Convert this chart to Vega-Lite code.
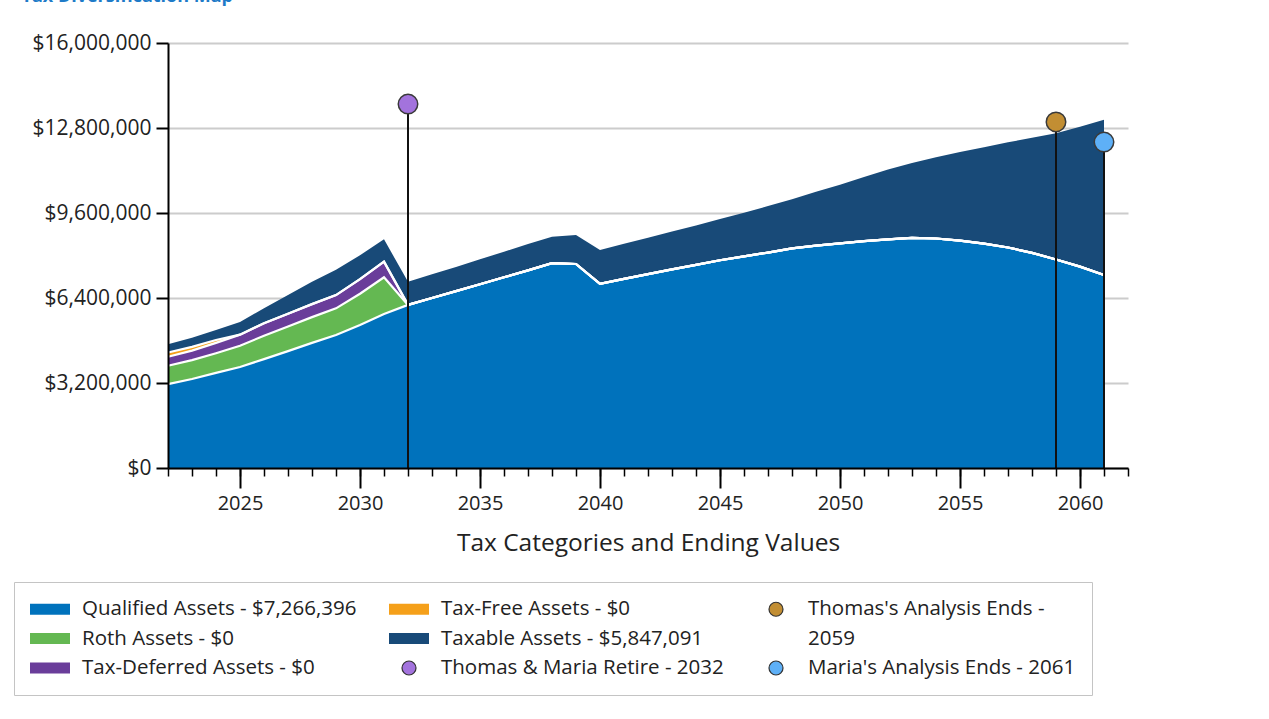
{
  "$schema": "https://vega.github.io/schema/vega-lite/v6.json",
  "width": 960,
  "height": 425,
  "autosize": {"type": "none"},
  "padding": {"left": 168, "top": 43, "right": 141, "bottom": 251},
  "background": "white",
  "config": {"view": {"stroke": null}, "font": "Open Sans"},
  "title": {"text": "Tax Diversification Map", "anchor": "start", "frame": "bounds", "fontSize": 18, "fontWeight": "bold", "color": "#1E7BC8", "font": "Open Sans", "offset": 26, "dx": 8},
  "datasets": {
    "areas": [
      {"year": 2022, "Qualified Assets - $7,266,396": 3160000, "Roth Assets - $0": 690000, "Tax-Deferred Assets - $0": 340000, "Tax-Free Assets - $0": 160000, "Taxable Assets - $5,847,091": 310000},
      {"year": 2023, "Qualified Assets - $7,266,396": 3350000, "Roth Assets - $0": 710000, "Tax-Deferred Assets - $0": 360000, "Tax-Free Assets - $0": 140000, "Taxable Assets - $5,847,091": 340000},
      {"year": 2024, "Qualified Assets - $7,266,396": 3580000, "Roth Assets - $0": 740000, "Tax-Deferred Assets - $0": 390000, "Tax-Free Assets - $0": 110000, "Taxable Assets - $5,847,091": 380000},
      {"year": 2025, "Qualified Assets - $7,266,396": 3800000, "Roth Assets - $0": 800000, "Tax-Deferred Assets - $0": 420000, "Tax-Free Assets - $0": 0, "Taxable Assets - $5,847,091": 480000},
      {"year": 2026, "Qualified Assets - $7,266,396": 4100000, "Roth Assets - $0": 880000, "Tax-Deferred Assets - $0": 470000, "Tax-Free Assets - $0": 0, "Taxable Assets - $5,847,091": 560000},
      {"year": 2027, "Qualified Assets - $7,266,396": 4400000, "Roth Assets - $0": 930000, "Tax-Deferred Assets - $0": 480000, "Tax-Free Assets - $0": 0, "Taxable Assets - $5,847,091": 700000},
      {"year": 2028, "Qualified Assets - $7,266,396": 4710000, "Roth Assets - $0": 970000, "Tax-Deferred Assets - $0": 490000, "Tax-Free Assets - $0": 0, "Taxable Assets - $5,847,091": 840000},
      {"year": 2029, "Qualified Assets - $7,266,396": 5010000, "Roth Assets - $0": 1000000, "Tax-Deferred Assets - $0": 500000, "Tax-Free Assets - $0": 0, "Taxable Assets - $5,847,091": 950000},
      {"year": 2030, "Qualified Assets - $7,266,396": 5380000, "Roth Assets - $0": 1180000, "Tax-Deferred Assets - $0": 550000, "Tax-Free Assets - $0": 0, "Taxable Assets - $5,847,091": 900000},
      {"year": 2031, "Qualified Assets - $7,266,396": 5800000, "Roth Assets - $0": 1380000, "Tax-Deferred Assets - $0": 590000, "Tax-Free Assets - $0": 0, "Taxable Assets - $5,847,091": 840000},
      {"year": 2032, "Qualified Assets - $7,266,396": 6140000, "Roth Assets - $0": 0, "Tax-Deferred Assets - $0": 0, "Tax-Free Assets - $0": 0, "Taxable Assets - $5,847,091": 870000},
      {"year": 2033, "Qualified Assets - $7,266,396": 6400000, "Roth Assets - $0": 0, "Tax-Deferred Assets - $0": 0, "Tax-Free Assets - $0": 0, "Taxable Assets - $5,847,091": 890000},
      {"year": 2034, "Qualified Assets - $7,266,396": 6660000, "Roth Assets - $0": 0, "Tax-Deferred Assets - $0": 0, "Tax-Free Assets - $0": 0, "Taxable Assets - $5,847,091": 910000},
      {"year": 2035, "Qualified Assets - $7,266,396": 6920000, "Roth Assets - $0": 0, "Tax-Deferred Assets - $0": 0, "Tax-Free Assets - $0": 0, "Taxable Assets - $5,847,091": 940000},
      {"year": 2036, "Qualified Assets - $7,266,396": 7180000, "Roth Assets - $0": 0, "Tax-Deferred Assets - $0": 0, "Tax-Free Assets - $0": 0, "Taxable Assets - $5,847,091": 960000},
      {"year": 2037, "Qualified Assets - $7,266,396": 7440000, "Roth Assets - $0": 0, "Tax-Deferred Assets - $0": 0, "Tax-Free Assets - $0": 0, "Taxable Assets - $5,847,091": 990000},
      {"year": 2038, "Qualified Assets - $7,266,396": 7710000, "Roth Assets - $0": 0, "Tax-Deferred Assets - $0": 0, "Tax-Free Assets - $0": 0, "Taxable Assets - $5,847,091": 1000000},
      {"year": 2039, "Qualified Assets - $7,266,396": 7680000, "Roth Assets - $0": 0, "Tax-Deferred Assets - $0": 0, "Tax-Free Assets - $0": 0, "Taxable Assets - $5,847,091": 1090000},
      {"year": 2040, "Qualified Assets - $7,266,396": 6930000, "Roth Assets - $0": 0, "Tax-Deferred Assets - $0": 0, "Tax-Free Assets - $0": 0, "Taxable Assets - $5,847,091": 1280000},
      {"year": 2041, "Qualified Assets - $7,266,396": 7120000, "Roth Assets - $0": 0, "Tax-Deferred Assets - $0": 0, "Tax-Free Assets - $0": 0, "Taxable Assets - $5,847,091": 1320000},
      {"year": 2042, "Qualified Assets - $7,266,396": 7300000, "Roth Assets - $0": 0, "Tax-Deferred Assets - $0": 0, "Tax-Free Assets - $0": 0, "Taxable Assets - $5,847,091": 1370000},
      {"year": 2043, "Qualified Assets - $7,266,396": 7480000, "Roth Assets - $0": 0, "Tax-Deferred Assets - $0": 0, "Tax-Free Assets - $0": 0, "Taxable Assets - $5,847,091": 1420000},
      {"year": 2044, "Qualified Assets - $7,266,396": 7650000, "Roth Assets - $0": 0, "Tax-Deferred Assets - $0": 0, "Tax-Free Assets - $0": 0, "Taxable Assets - $5,847,091": 1480000},
      {"year": 2045, "Qualified Assets - $7,266,396": 7820000, "Roth Assets - $0": 0, "Tax-Deferred Assets - $0": 0, "Tax-Free Assets - $0": 0, "Taxable Assets - $5,847,091": 1550000},
      {"year": 2046, "Qualified Assets - $7,266,396": 7970000, "Roth Assets - $0": 0, "Tax-Deferred Assets - $0": 0, "Tax-Free Assets - $0": 0, "Taxable Assets - $5,847,091": 1640000},
      {"year": 2047, "Qualified Assets - $7,266,396": 8110000, "Roth Assets - $0": 0, "Tax-Deferred Assets - $0": 0, "Tax-Free Assets - $0": 0, "Taxable Assets - $5,847,091": 1750000},
      {"year": 2048, "Qualified Assets - $7,266,396": 8270000, "Roth Assets - $0": 0, "Tax-Deferred Assets - $0": 0, "Tax-Free Assets - $0": 0, "Taxable Assets - $5,847,091": 1850000},
      {"year": 2049, "Qualified Assets - $7,266,396": 8370000, "Roth Assets - $0": 0, "Tax-Deferred Assets - $0": 0, "Tax-Free Assets - $0": 0, "Taxable Assets - $5,847,091": 2030000},
      {"year": 2050, "Qualified Assets - $7,266,396": 8460000, "Roth Assets - $0": 0, "Tax-Deferred Assets - $0": 0, "Tax-Free Assets - $0": 0, "Taxable Assets - $5,847,091": 2200000},
      {"year": 2051, "Qualified Assets - $7,266,396": 8540000, "Roth Assets - $0": 0, "Tax-Deferred Assets - $0": 0, "Tax-Free Assets - $0": 0, "Taxable Assets - $5,847,091": 2420000},
      {"year": 2052, "Qualified Assets - $7,266,396": 8610000, "Roth Assets - $0": 0, "Tax-Deferred Assets - $0": 0, "Tax-Free Assets - $0": 0, "Taxable Assets - $5,847,091": 2630000},
      {"year": 2053, "Qualified Assets - $7,266,396": 8660000, "Roth Assets - $0": 0, "Tax-Deferred Assets - $0": 0, "Tax-Free Assets - $0": 0, "Taxable Assets - $5,847,091": 2820000},
      {"year": 2054, "Qualified Assets - $7,266,396": 8640000, "Roth Assets - $0": 0, "Tax-Deferred Assets - $0": 0, "Tax-Free Assets - $0": 0, "Taxable Assets - $5,847,091": 3060000},
      {"year": 2055, "Qualified Assets - $7,266,396": 8560000, "Roth Assets - $0": 0, "Tax-Deferred Assets - $0": 0, "Tax-Free Assets - $0": 0, "Taxable Assets - $5,847,091": 3340000},
      {"year": 2056, "Qualified Assets - $7,266,396": 8450000, "Roth Assets - $0": 0, "Tax-Deferred Assets - $0": 0, "Tax-Free Assets - $0": 0, "Taxable Assets - $5,847,091": 3630000},
      {"year": 2057, "Qualified Assets - $7,266,396": 8300000, "Roth Assets - $0": 0, "Tax-Deferred Assets - $0": 0, "Tax-Free Assets - $0": 0, "Taxable Assets - $5,847,091": 3960000},
      {"year": 2058, "Qualified Assets - $7,266,396": 8100000, "Roth Assets - $0": 0, "Tax-Deferred Assets - $0": 0, "Tax-Free Assets - $0": 0, "Taxable Assets - $5,847,091": 4330000},
      {"year": 2059, "Qualified Assets - $7,266,396": 7850000, "Roth Assets - $0": 0, "Tax-Deferred Assets - $0": 0, "Tax-Free Assets - $0": 0, "Taxable Assets - $5,847,091": 4750000},
      {"year": 2060, "Qualified Assets - $7,266,396": 7580000, "Roth Assets - $0": 0, "Tax-Deferred Assets - $0": 0, "Tax-Free Assets - $0": 0, "Taxable Assets - $5,847,091": 5270000},
      {"year": 2061, "Qualified Assets - $7,266,396": 7266396, "Roth Assets - $0": 0, "Tax-Deferred Assets - $0": 0, "Tax-Free Assets - $0": 0, "Taxable Assets - $5,847,091": 5847091}
    ],
    "markers": [
      {"year": 2032, "series": "Thomas & Maria Retire - 2032", "value": 13700000},
      {"year": 2059, "series": "Thomas's Analysis Ends - 2059", "value": 13030000},
      {"year": 2061, "series": "Maria's Analysis Ends - 2061", "value": 12270000}
    ]
  },
  "resolve": {"axis": {"x": "independent", "y": "independent"}},
  "layer": [
    {
      "data": {"name": "areas"},
      "transform": [
        {"fold": ["Qualified Assets - $7,266,396", "Roth Assets - $0", "Tax-Deferred Assets - $0", "Tax-Free Assets - $0", "Taxable Assets - $5,847,091"], "as": ["series", "value"]},
        {"stack": "value", "groupby": ["year"], "sort": [{"field": "series", "order": "ascending"}], "as": ["v0", "v1"]}
      ],
      "mark": {"type": "area", "interpolate": "linear"},
      "encoding": {
        "x": {"field": "year", "type": "quantitative", "scale": {"domain": [2022, 2062], "nice": false, "zero": false},
          "axis": {"orient": "bottom", "values": [2025, 2030, 2035, 2040, 2045, 2050, 2055, 2060], "format": "d", "domainColor": "#000000", "domainWidth": 2, "tickColor": "#000000", "tickWidth": 2, "tickSize": 20, "labelFont": "Open Sans", "labelFontSize": 20, "labelColor": "#222222", "labelPadding": 5, "grid": false, "title": "Tax Categories and Ending Values", "titleFont": "Open Sans", "titleFontSize": 24.5, "titleFontWeight": "normal", "titleColor": "#222222", "titlePadding": 18, "zindex": 1}},
        "y": {"field": "v1", "type": "quantitative", "scale": {"domain": [0, 16000000], "nice": false, "zero": true},
          "axis": {"orient": "left", "values": [0, 3200000, 6400000, 9600000, 12800000, 16000000], "grid": true, "gridColor": "#cccccc", "gridWidth": 2, "domain": false, "ticks": false, "labels": false, "title": null, "zindex": 0}},
        "y2": {"field": "v0"},
        "color": {"field": "series", "type": "nominal",
          "scale": {
            "domain": ["Qualified Assets - $7,266,396", "Tax-Free Assets - $0", "Thomas's Analysis Ends - 2059", "Roth Assets - $0", "Taxable Assets - $5,847,091", "2059", "Tax-Deferred Assets - $0", "Thomas & Maria Retire - 2032", "Maria's Analysis Ends - 2061"],
            "range": ["#0072BC", "#F5A01A", "#C28E33", "#64B852", "#184A78", "rgba(0,0,0,0)", "#6A3D9A", "#A373DD", "#5EB0F7"]
          },
          "legend": {"title": null, "orient": "none", "legendX": -154, "legendY": 539, "direction": "horizontal", "columns": 3, "columnPadding": 29, "rowPadding": 7.5, "padding": 16, "strokeColor": "#c4c4c4", "fillColor": "white", "symbolSize": 400, "symbolOffset": 9, "symbolStrokeWidth": 1.2, "symbolOpacity": 1, "labelOffset": 21, "labelFont": "Open Sans", "labelFontSize": 20.5, "labelColor": "#222222", "labelLimit": 600,
            "labelExpr": "datum.label == \"Thomas's Analysis Ends - 2059\" ? \"Thomas's Analysis Ends -\" : datum.label",
            "encode": {"symbols": {"update": {"stroke": {"signal": "indexof(datum.value, 'Ends') >= 0 || indexof(datum.value, 'Retire') >= 0 ? '#333333' : 'transparent'"}}}}}
        }
      }
    },
    {
      "data": {"name": "areas"},
      "transform": [
        {"fold": ["Qualified Assets - $7,266,396", "Roth Assets - $0", "Tax-Deferred Assets - $0", "Tax-Free Assets - $0", "Taxable Assets - $5,847,091"], "as": ["series", "value"]},
        {"stack": "value", "groupby": ["year"], "sort": [{"field": "series", "order": "ascending"}], "as": ["v0", "v1"]},
        {"filter": "datum.series != 'Taxable Assets - $5,847,091'"}
      ],
      "mark": {"type": "line", "color": "white", "strokeWidth": 2.2, "interpolate": "linear"},
      "encoding": {
        "x": {"field": "year", "type": "quantitative", "axis": null},
        "y": {"field": "v1", "type": "quantitative", "axis": null},
        "detail": {"field": "series", "type": "nominal"}
      }
    },
    {
      "data": {"name": "markers"},
      "mark": {"type": "rule", "color": "#111111", "strokeWidth": 2},
      "encoding": {
        "x": {"field": "year", "type": "quantitative",
          "axis": {"orient": "bottom", "values": [2022, 2023, 2024, 2025, 2026, 2027, 2028, 2029, 2030, 2031, 2032, 2033, 2034, 2035, 2036, 2037, 2038, 2039, 2040, 2041, 2042, 2043, 2044, 2045, 2046, 2047, 2048, 2049, 2050, 2051, 2052, 2053, 2054, 2055, 2056, 2057, 2058, 2059, 2060, 2061, 2062], "domain": false, "labels": false, "ticks": true, "tickSize": 8, "tickColor": "#000000", "tickWidth": 1.5, "grid": false, "title": null, "zindex": 1}},
        "y": {"field": "value", "type": "quantitative",
          "axis": {"orient": "left", "values": [0, 3200000, 6400000, 9600000, 12800000, 16000000], "format": "$,.0f", "grid": false, "domain": true, "domainColor": "#000000", "domainWidth": 2, "ticks": true, "tickSize": 12, "tickColor": "#000000", "tickWidth": 2, "labelFont": "Open Sans", "labelFontSize": 21, "labelColor": "#222222", "labelPadding": 5, "title": null, "zindex": 1}},
        "y2": {"datum": 0}
      }
    },
    {
      "data": {"name": "markers"},
      "mark": {"type": "point", "filled": true, "opacity": 1, "shape": "circle", "size": 380, "stroke": "#3a3a3a", "strokeWidth": 1.5},
      "encoding": {
        "x": {"field": "year", "type": "quantitative", "axis": null},
        "y": {"field": "value", "type": "quantitative", "axis": null},
        "color": {"field": "series", "type": "nominal",
          "legend": {"title": null, "orient": "none", "legendX": -154, "legendY": 539, "direction": "horizontal", "columns": 3, "columnPadding": 29, "rowPadding": 7.5, "padding": 16, "strokeColor": "#c4c4c4", "fillColor": "white", "symbolSize": 400, "symbolOffset": 9, "symbolStrokeWidth": 1.2, "symbolOpacity": 1, "labelOffset": 21, "labelFont": "Open Sans", "labelFontSize": 20.5, "labelColor": "#222222", "labelLimit": 600,
            "labelExpr": "datum.label == \"Thomas's Analysis Ends - 2059\" ? \"Thomas's Analysis Ends -\" : datum.label",
            "encode": {"symbols": {"update": {"stroke": {"signal": "indexof(datum.value, 'Ends') >= 0 || indexof(datum.value, 'Retire') >= 0 ? '#333333' : 'transparent'"}}}}}
        }
      }
    },
    {
      "data": {"name": "markers"},
      "mark": {"type": "point", "filled": true, "opacity": 0},
      "encoding": {
        "x": {"field": "year", "type": "quantitative", "axis": null},
        "y": {"field": "value", "type": "quantitative", "axis": null},
        "color": {"field": "series", "type": "nominal",
          "legend": {"title": null, "orient": "none", "legendX": -154, "legendY": 539, "direction": "horizontal", "columns": 3, "columnPadding": 29, "rowPadding": 7.5, "padding": 16, "strokeColor": "#c4c4c4", "fillColor": "white", "symbolSize": 400, "symbolOffset": 9, "symbolStrokeWidth": 1.2, "symbolOpacity": 1, "labelOffset": 21, "labelFont": "Open Sans", "labelFontSize": 20.5, "labelColor": "#222222", "labelLimit": 600,
            "labelExpr": "datum.label == \"Thomas's Analysis Ends - 2059\" ? \"Thomas's Analysis Ends -\" : datum.label",
            "encode": {"symbols": {"update": {"stroke": {"signal": "indexof(datum.value, 'Ends') >= 0 || indexof(datum.value, 'Retire') >= 0 ? '#333333' : 'transparent'"}}}}}
        },
        "shape": {"field": "series", "type": "nominal",
          "scale": {
            "domain": ["Qualified Assets - $7,266,396", "Tax-Free Assets - $0", "Thomas's Analysis Ends - 2059", "Roth Assets - $0", "Taxable Assets - $5,847,091", "2059", "Tax-Deferred Assets - $0", "Thomas & Maria Retire - 2032", "Maria's Analysis Ends - 2061"],
            "range": ["M-2,-0.55H2V0.55H-2Z", "M-2,-0.55H2V0.55H-2Z", "M0.7,0A0.7,0.7,0,1,1,-0.7,0A0.7,0.7,0,1,1,0.7,0Z", "M-2,-0.55H2V0.55H-2Z", "M-2,-0.55H2V0.55H-2Z", "M-2,-0.55H2V0.55H-2Z", "M-2,-0.55H2V0.55H-2Z", "M0.7,0A0.7,0.7,0,1,1,-0.7,0A0.7,0.7,0,1,1,0.7,0Z", "M0.7,0A0.7,0.7,0,1,1,-0.7,0A0.7,0.7,0,1,1,0.7,0Z"]
          },
          "legend": {"title": null, "orient": "none", "legendX": -154, "legendY": 539, "direction": "horizontal", "columns": 3, "columnPadding": 29, "rowPadding": 7.5, "padding": 16, "strokeColor": "#c4c4c4", "fillColor": "white", "symbolSize": 400, "symbolOffset": 9, "symbolStrokeWidth": 1.2, "symbolOpacity": 1, "labelOffset": 21, "labelFont": "Open Sans", "labelFontSize": 20.5, "labelColor": "#222222", "labelLimit": 600,
            "labelExpr": "datum.label == \"Thomas's Analysis Ends - 2059\" ? \"Thomas's Analysis Ends -\" : datum.label",
            "encode": {"symbols": {"update": {"stroke": {"signal": "indexof(datum.value, 'Ends') >= 0 || indexof(datum.value, 'Retire') >= 0 ? '#333333' : 'transparent'"}}}}}
        }
      }
    }
  ]
}
